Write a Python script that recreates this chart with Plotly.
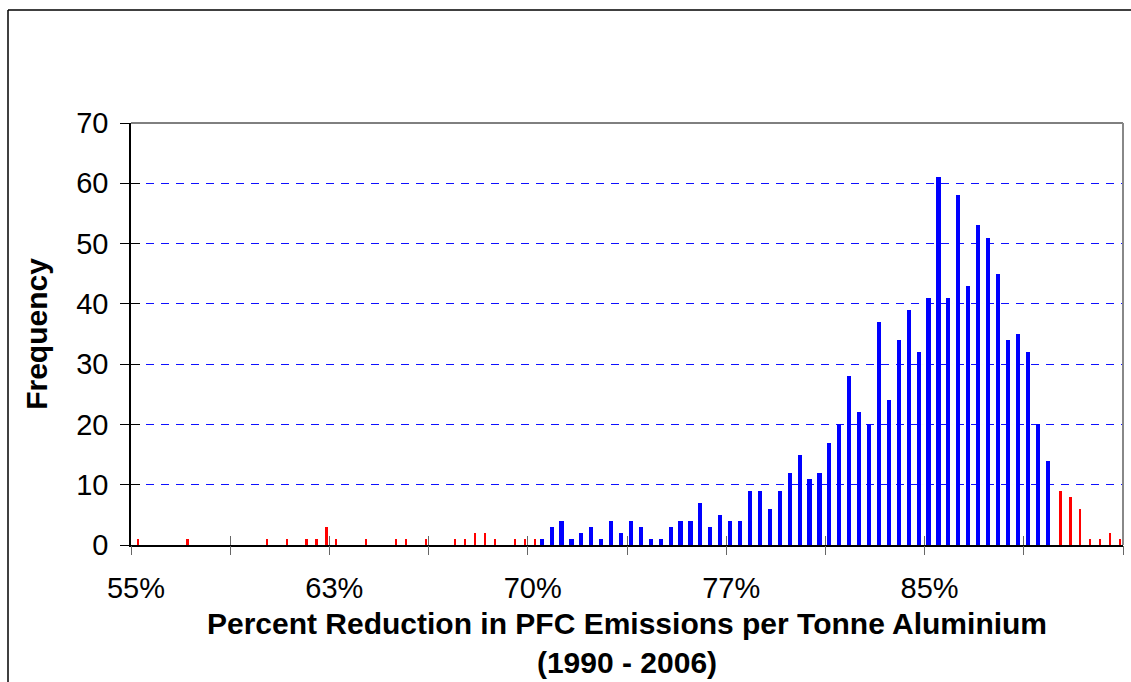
import plotly.graph_objects as go

# ---- data (100 histogram bins, labelled every 20 bins) ----
bin_index = list(range(100))
tick_positions = [0, 20, 40, 60, 80]
tick_labels = ["55%", "63%", "70%", "77%", "85%"]

# bins outside the central range (red)
red_freq = [1, 0, 0, 0, 0, 1, 0, 0, 0, 0,
            0, 0, 0, 1, 0, 1, 0, 1, 1, 3,
            1, 0, 0, 1, 0, 0, 1, 1, 0, 1,
            0, 0, 1, 1, 2, 2, 1, 0, 1, 1,
            1, 0, 0, 0, 0, 0, 0, 0, 0, 0,
            0, 0, 0, 0, 0, 0, 0, 0, 0, 0,
            0, 0, 0, 0, 0, 0, 0, 0, 0, 0,
            0, 0, 0, 0, 0, 0, 0, 0, 0, 0,
            0, 0, 0, 0, 0, 0, 0, 0, 0, 0,
            0, 0, 0, 9, 8, 6, 1, 1, 2, 1]

# bins inside the central range (blue)
blue_freq = [0, 0, 0, 0, 0, 0, 0, 0, 0, 0,
             0, 0, 0, 0, 0, 0, 0, 0, 0, 0,
             0, 0, 0, 0, 0, 0, 0, 0, 0, 0,
             0, 0, 0, 0, 0, 0, 0, 0, 0, 0,
             0, 1, 3, 4, 1, 2, 3, 1, 4, 2,
             4, 3, 1, 1, 3, 4, 4, 7, 3, 5,
             4, 4, 9, 9, 6, 9, 12, 15, 11, 12,
             17, 20, 28, 22, 20, 37, 24, 34, 39, 32,
             41, 61, 41, 58, 43, 53, 51, 45, 34, 35,
             32, 20, 14, 0, 0, 0, 0, 0, 0, 0]

y_ticks = [0, 10, 20, 30, 40, 50, 60, 70]

W, H = 1131, 682
L, R, T, B = 131, 8, 123, 137
FONT = "Liberation Sans, Arial, sans-serif"

fig = go.Figure()
fig.add_trace(go.Bar(x=bin_index, y=[v if v else None for v in red_freq],
                     marker=dict(color="#FF0000", line=dict(width=0)),
                     width=0.22, offset=0.09, showlegend=False))
fig.add_trace(go.Bar(x=bin_index, y=[v if v else None for v in blue_freq],
                     marker=dict(color="#0000FF", line=dict(width=0)),
                     width=0.42, offset=-0.31, showlegend=False))
# dummy traces to activate the overlay axes used for crossing tick marks
fig.add_trace(go.Scatter(x=[None], y=[None], xaxis="x2", yaxis="y", showlegend=False))
fig.add_trace(go.Scatter(x=[None], y=[None], xaxis="x3", yaxis="y", showlegend=False))
fig.add_trace(go.Scatter(x=[None], y=[None], xaxis="x", yaxis="y2", showlegend=False))

xr = [-0.5, 99.5]
boundaries = [i - 0.5 for i in range(0, 101, 10)]

fig.update_layout(
    width=W, height=H,
    margin=dict(l=L, r=R, t=T, b=B),
    paper_bgcolor="white", plot_bgcolor="white",
    barmode="overlay", bargap=0,
    font=dict(family=FONT, color="black"),
    xaxis=dict(range=xr, tickmode="array", tickvals=tick_positions, ticktext=tick_labels,
               ticks="", showgrid=False, zeroline=False,
               showline=True, linecolor="black", linewidth=2,
               tickfont=dict(size=29, family=FONT), ticklabelstandoff=16,
               title=dict(text="<b>Percent Reduction in PFC Emissions per Tonne Aluminium<br>(1990 - 2006)</b>",
                          font=dict(size=30, family=FONT), standoff=10)),
    xaxis2=dict(range=xr, overlaying="x", anchor="y", side="bottom",
                tickmode="array", tickvals=boundaries, ticks="outside", ticklen=9,
                tickcolor="#666", tickwidth=1, showticklabels=False,
                showgrid=False, zeroline=False, showline=False),
    xaxis3=dict(range=xr, overlaying="x", anchor="y", side="bottom",
                tickmode="array", tickvals=boundaries, ticks="inside", ticklen=9,
                tickcolor="#666", tickwidth=1, showticklabels=False,
                showgrid=False, zeroline=False, showline=False),
    yaxis=dict(range=[0, 70], tickmode="array", tickvals=y_ticks,
               ticks="outside", ticklen=9, tickcolor="black", tickwidth=1,
               showline=True, linecolor="black", linewidth=1.5, zeroline=False,
               showgrid=True, gridcolor="#1010FF", gridwidth=1, griddash="8px,7px",
               tickfont=dict(size=29, family=FONT), ticklabelstandoff=6,
               title=dict(text="<b>Frequency</b>", font=dict(size=30, family=FONT), standoff=20)),
    yaxis2=dict(range=[0, 70], overlaying="y", anchor="x", side="left",
                tickmode="array", tickvals=y_ticks, ticks="inside", ticklen=9,
                tickcolor="black", tickwidth=1, showticklabels=False,
                showgrid=False, zeroline=False, showline=False),
    shapes=[
        # top border of plot area
        dict(type="line", xref="paper", yref="paper", x0=0, x1=1, y0=1, y1=1,
             line=dict(color="black", width=1)),
        # right border of plot area
        dict(type="line", xref="paper", yref="paper", x0=1, x1=1, y0=0, y1=1,
             line=dict(color="#888888", width=2)),
        # outer chart border (left & top, continues beyond the crop)
        dict(type="line", xref="paper", yref="paper",
             x0=(8 - L) / (W - L - R), x1=(8 - L) / (W - L - R),
             y0=-1, y1=(H - B - 10) / (H - T - B),
             line=dict(color="black", width=1.5)),
        dict(type="line", xref="paper", yref="paper",
             x0=(8 - L) / (W - L - R), x1=2,
             y0=(H - B - 10) / (H - T - B), y1=(H - B - 10) / (H - T - B),
             line=dict(color="black", width=1.5)),
    ],
)

fig.write_html("out.html")
